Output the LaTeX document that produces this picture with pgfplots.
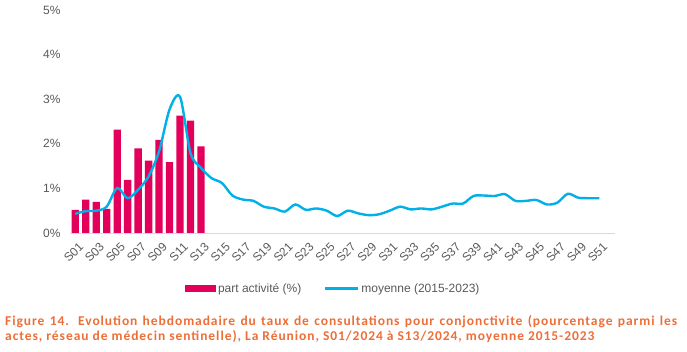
\documentclass[border=0pt]{standalone}
\usepackage{pgfplots}
\pgfplotsset{compat=1.18}
\usepackage{fontspec}
\setmainfont{Liberation Sans}
\newfontfamily\capfont[LetterSpace=7]{Carlito}
\definecolor{barred}{RGB}{226,0,90}
\definecolor{linecyan}{RGB}{0,176,230}
\definecolor{tickgray}{RGB}{89,89,89}
\definecolor{axgray}{RGB}{217,217,217}
\definecolor{capor}{RGB}{237,110,55}
\begin{document}
\begin{tikzpicture}[x=1pt,y=1pt]
\begin{axis}[
  at={(70pt,119pt)}, anchor=south west,
  width=545pt, height=223pt, scale only axis,
  xmin=0.5, xmax=52.5, ymin=0, ymax=5,
  axis x line*=bottom, axis y line*=left,
  x axis line style={draw=axgray, line width=0.8pt, -},
  y axis line style={draw=none},
  major tick length=0pt,
  xtick={1,3,...,51},
  xticklabels={S01,S03,S05,S07,S09,S11,S13,S15,S17,S19,S21,S23,S25,S27,S29,S31,S33,S35,S37,S39,S41,S43,S45,S47,S49,S51},
  ytick={0,1,2,3,4,5},
  yticklabel={\pgfmathprintnumber{\tick}\%},
  /pgf/number format/assume math mode=true,
  tick label style={font=\fontsize{12}{14}\selectfont, text=tickgray},
  yticklabel style={xshift=-6pt},
  xticklabel style={rotate=45, anchor=north east, inner sep=0pt, xshift=-4pt, yshift=-8pt},
  legend columns=2,
  legend style={at={(0.483,-0.251)}, anchor=center, draw=none, fill=none,
    font=\fontsize{12}{14}\selectfont, text=tickgray,
    /tikz/every even column/.append style={column sep=20pt}},
]
\addplot[ybar, bar width=7.3pt, fill=barred, draw=none,
  legend image code/.code={\fill[barred] (0pt,-3.5pt) rectangle (31pt,3.5pt);}]
coordinates {
(1,0.52) (2,0.75) (3,0.70) (4,0.54) (5,2.32) (6,1.19) (7,1.90)
(8,1.62) (9,2.09) (10,1.59) (11,2.63) (12,2.52) (13,1.94)
};
\addlegendentry{part activité (\%)}
\addplot[smooth, color=linecyan, line width=2.4pt,
  legend image code/.code={\draw[linecyan, line width=3pt] (0pt,0pt) -- (33pt,0pt);}]
coordinates {
(1,0.43) (2,0.49) (3,0.50) (4,0.59) (5,1.01) (6,0.78) (7,0.97) (8,1.27)
(9,1.83) (10,2.77) (11,3.05) (12,1.79) (13,1.46) (14,1.23) (15,1.12) (16,0.84)
(17,0.75) (18,0.72) (19,0.59) (20,0.55) (21,0.48) (22,0.64) (23,0.52) (24,0.55)
(25,0.50) (26,0.38) (27,0.50) (28,0.44) (29,0.40) (30,0.42) (31,0.50) (32,0.59)
(33,0.53) (34,0.55) (35,0.53) (36,0.59) (37,0.66) (38,0.66) (39,0.83) (40,0.84)
(41,0.83) (42,0.87) (43,0.72) (44,0.72) (45,0.74) (46,0.64) (47,0.68) (48,0.88)
(49,0.79) (50,0.78) (51,0.78)
};
\addlegendentry{moyenne (2015-2023)}
\end{axis}
\node[anchor=north west, text width=672pt, align=justify, inner sep=0pt,
  font=\capfont\bfseries\fontsize{13.5}{15.5}\selectfont, text=capor] at (5pt,37pt)
{Figure 14. Evolution hebdomadaire du taux de consultations pour conjonctivite (pourcentage parmi les\linebreak actes, réseau de médecin sentinelle), La Réunion, S01/2024 à S13/2024, moyenne 2015-2023};
\pgfresetboundingbox
\path[use as bounding box] (0pt,0pt) rectangle (687pt,352pt);
\end{tikzpicture}
\end{document}
